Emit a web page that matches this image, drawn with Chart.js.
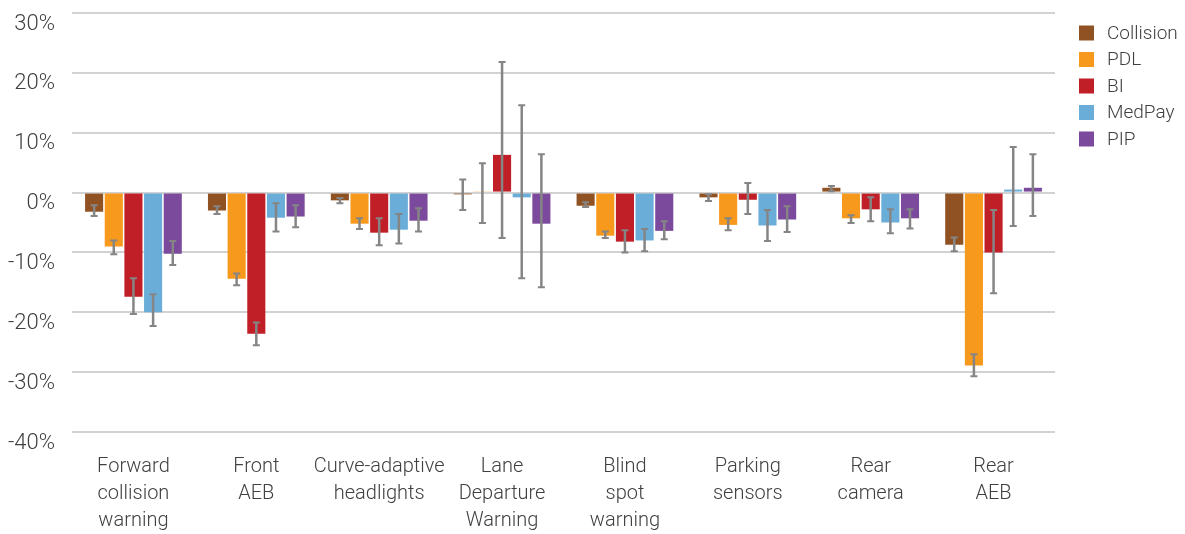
<!DOCTYPE html>
<html>
<head>
<meta charset="utf-8">
<script src="https://cdn.jsdelivr.net/npm/chart.js@4.4.1/dist/chart.umd.min.js"></script>
<style>
  html, body { margin: 0; padding: 0; background: #fff; }
  #wrap { width: 1185px; height: 534px; }
</style>
</head>
<body>
<div id="wrap"><canvas id="chart"></canvas></div>
<script>
const categories = [
    ['Forward', 'collision', 'warning'],
    ['Front', 'AEB'],
    ['Curve-adaptive', 'headlights'],
    ['Lane', 'Departure', 'Warning'],
    ['Blind', 'spot', 'warning'],
    ['Parking', 'sensors'],
    ['Rear', 'camera'],
    ['Rear', 'AEB']
];

const seriesNames = ['Collision', 'PDL', 'BI', 'MedPay', 'PIP'];
const seriesColors = ['#915223', '#f7991c', '#c11f27', '#6badd9', '#7b4a9c'];

// values in percent
const collision = [-3.2, -3.0, -1.3, -0.3, -2.2, -0.8, 0.8, -8.7];
const pdl = [-9.0, -14.4, -5.2, 0.2, -7.2, -5.4, -4.3, -28.9];
const bi = [-17.4, -23.6, -6.7, 6.3, -8.2, -1.2, -2.8, -10.0];
const medpay = [-20.0, -4.2, -6.2, -0.8, -8.0, -5.5, -5.0, 0.5];
const pip = [-10.2, -4.0, -4.7, -5.2, -6.4, -4.5, -4.3, 0.8];

// error bar ends (low, high)
const collisionLow = [-3.9, -3.6, -1.8, -2.9, -2.4, -1.4, 0.2, -9.8];
const collisionHigh = [-2.1, -2.3, -0.9, 2.2, -1.6, -0.3, 1.1, -7.5];
const pdlLow = [-10.3, -15.5, -6.1, -5.1, -7.6, -6.3, -5.1, -30.7];
const pdlHigh = [-8.0, -13.5, -4.3, 4.9, -6.5, -4.3, -3.8, -27.0];
const biLow = [-20.3, -25.5, -8.8, -7.6, -10.0, -3.6, -4.8, -16.8];
const biHigh = [-14.3, -21.7, -4.3, 21.8, -6.3, 1.6, -0.8, -2.9];
const medpayLow = [-22.3, -6.5, -8.5, -14.3, -9.8, -8.1, -6.8, -5.6];
const medpayHigh = [-17.0, -1.8, -3.6, 14.6, -6.1, -2.9, -2.8, 7.6];
const pipLow = [-12.1, -5.8, -6.5, -15.8, -7.8, -6.6, -6.0, -3.9];
const pipHigh = [-8.1, -2.1, -2.6, 6.4, -4.8, -2.3, -2.8, 6.4];

const yTicks = [30, 20, 10, 0, -10, -20, -30, -40];

const seriesValues = [collision, pdl, bi, medpay, pip];
const seriesLow = [collisionLow, pdlLow, biLow, medpayLow, pipLow];
const seriesHigh = [collisionHigh, pdlHigh, biHigh, medpayHigh, pipHigh];

const textColor = '#404040';
const fontFamily = 'Roboto, "Liberation Sans", Arial, sans-serif';

const errorBars = {
    id: 'errorBars',
    afterDatasetsDraw(chart) {
        const ctx = chart.ctx;
        const yScale = chart.scales.y;
        ctx.save();
        ctx.strokeStyle = '#858585';
        chart.data.datasets.forEach((ds, i) => {
            const meta = chart.getDatasetMeta(i);
            meta.data.forEach((bar, j) => {
                const yLo = yScale.getPixelForValue(seriesLow[i][j]);
                const yHi = yScale.getPixelForValue(seriesHigh[i][j]);
                const x = bar.x;
                ctx.lineWidth = 2.5;
                ctx.beginPath();
                ctx.moveTo(x, yLo);
                ctx.lineTo(x, yHi);
                ctx.stroke();
                ctx.lineWidth = 2;
                ctx.beginPath();
                ctx.moveTo(x - 3.5, yLo);
                ctx.lineTo(x + 3.5, yLo);
                ctx.moveTo(x - 3.5, yHi);
                ctx.lineTo(x + 3.5, yHi);
                ctx.stroke();
            });
        });
        ctx.restore();
    }
};

// legend top right, next to the plot
const sideLegend = {
    id: 'sideLegend',
    afterDraw(chart) {
        const ctx = chart.ctx;
        const left = chart.chartArea.right + 24;
        const top = chart.chartArea.top + 20;
        ctx.save();
        ctx.font = '300 19px ' + fontFamily;
        ctx.textBaseline = 'middle';
        ctx.textAlign = 'left';
        chart.data.datasets.forEach((ds, i) => {
            const cy = top + i * 26.5;
            ctx.fillStyle = ds.backgroundColor;
            ctx.fillRect(left, cy - 7.5, 15, 15);
            ctx.fillStyle = textColor;
            ctx.fillText(ds.label, left + 28, cy + 1);
        });
        ctx.restore();
    }
};

const chart = new Chart(document.getElementById('chart'), {
    type: 'bar',
    data: {
        labels: categories,
        datasets: seriesNames.map((name, i) => ({
            label: name,
            data: seriesValues[i],
            backgroundColor: seriesColors[i],
            borderWidth: 0,
            categoryPercentage: 0.8,
            barPercentage: 0.92
        }))
    },
    options: {
        responsive: true,
        maintainAspectRatio: false,
        animation: false,
        layout: { padding: { left: 6, right: 130, top: 13, bottom: 0 } },
        plugins: {
            tooltip: { enabled: false },
            legend: { display: false }
        },
        scales: {
            x: {
                grid: { display: false, drawTicks: false },
                border: { display: false },
                afterFit: s => { s.height = 102; s.paddingLeft = 0; s.paddingRight = 0; },
                ticks: {
                    color: textColor,
                    padding: 21,
                    maxRotation: 0,
                    autoSkip: false,
                    font: { family: fontFamily, size: 20, weight: 300, lineHeight: 1.35 }
                }
            },
            y: {
                min: -40,
                max: 30,
                afterBuildTicks: axis => { axis.ticks = yTicks.map(v => ({ value: v })); },
                afterFit: s => { s.width = 66; s.paddingTop = 0; s.paddingBottom = 0; },
                grid: { color: '#d2d2d2', lineWidth: 2, drawTicks: false },
                border: { display: false },
                ticks: {
                    color: textColor,
                    padding: 17,
                    labelOffset: 11,
                    callback: v => v + '%',
                    font: { family: fontFamily, size: 22, weight: 300 }
                }
            }
        }
    },
    plugins: [errorBars, sideLegend]
});
</script>
</body>
</html>
